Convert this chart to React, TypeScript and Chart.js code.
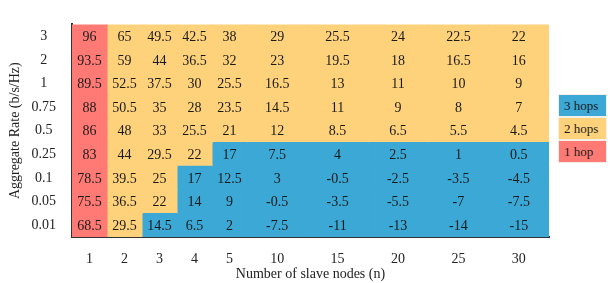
import React, { useEffect, useRef } from "react";
import { Chart, registerables } from "chart.js";

Chart.register(...registerables);

// Rows, top to bottom (Aggregate Rate b/s/Hz)
const rateLabels = ["3", "2", "1", "0.75", "0.5", "0.25", "0.1", "0.05", "0.01"];
// Columns (number of slave nodes)
const nodeLabels = ["1", "2", "3", "4", "5", "10", "15", "20", "25", "30"];

// Values per column, rows top (3) to bottom (0.01)
const vals1 = [96, 93.5, 89.5, 88, 86, 83, 78.5, 75.5, 68.5];
const vals2 = [65, 59, 52.5, 50.5, 48, 44, 39.5, 36.5, 29.5];
const vals3 = [49.5, 44, 37.5, 35, 33, 29.5, 25, 22, 14.5];
const vals4 = [42.5, 36.5, 30, 28, 25.5, 22, 17, 14, 6.5];
const vals5 = [38, 32, 25.5, 23.5, 21, 17, 12.5, 9, 2];
const vals10 = [29, 23, 16.5, 14.5, 12, 7.5, 3, -0.5, -7.5];
const vals15 = [25.5, 19.5, 13, 11, 8.5, 4, -0.5, -3.5, -11];
const vals20 = [24, 18, 11, 9, 6.5, 2.5, -2.5, -5.5, -13];
const vals25 = [22.5, 16.5, 10, 8, 5.5, 1, -3.5, -7, -14];
const vals30 = [22, 16, 9, 7, 4.5, 0.5, -4.5, -7.5, -15];
const values = [vals1, vals2, vals3, vals4, vals5, vals10, vals15, vals20, vals25, vals30];

// Hop count per cell, same layout
const hops1 = [1, 1, 1, 1, 1, 1, 1, 1, 1];
const hops2 = [2, 2, 2, 2, 2, 2, 2, 2, 2];
const hops3 = [2, 2, 2, 2, 2, 2, 2, 2, 3];
const hops4 = [2, 2, 2, 2, 2, 2, 3, 3, 3];
const hops5 = [2, 2, 2, 2, 2, 3, 3, 3, 3];
const hops = [hops1, hops2, hops3, hops4, hops5, hops5, hops5, hops5, hops5, hops5];

const legendLabels = ["3 hops", "2 hops", "1 hop"];

// Styling / layout (not data)
const hopColors: Record<number, string> = { 1: "#FF7A75", 2: "#FED27B", 3: "#3BA8D6" };
const colWeights = [35, 35, 35, 35, 35, 60.4, 60.4, 60.4, 60.4, 60.4];
const FONT = "'Liberation Serif', 'Times New Roman', serif";

const edges: number[] = [0];
colWeights.forEach((w, i) => edges.push(edges[i] + w));
const centers = colWeights.map((w, i) => edges[i] + w / 2);

const cellTextPlugin = {
  id: "cellText",
  afterDatasetsDraw(chart: any) {
    const ctx = chart.ctx;
    ctx.save();
    ctx.font = `14px ${FONT}`;
    ctx.fillStyle = "#1a1a1a";
    ctx.textAlign = "center";
    ctx.textBaseline = "middle";
    chart.data.datasets.forEach((ds: any, di: number) => {
      const meta = chart.getDatasetMeta(di);
      meta.data.forEach((el: any, ri: number) => {
        const cx = (el.x + el.base) / 2;
        ctx.fillText(String(values[di][ri]), cx, el.y + 1);
      });
    });
    ctx.restore();
  },
};

export default function App() {
  const ref = useRef<HTMLCanvasElement>(null);
  useEffect(() => {
    if (!ref.current) return;
    const datasets = values.map((col, ci) => ({
      label: nodeLabels[ci],
      data: col.map(() => [edges[ci], edges[ci + 1]]),
      backgroundColor: hops[ci].map((h) => hopColors[h]),
      borderWidth: 0,
      barPercentage: 1,
      categoryPercentage: 1,
      grouped: false,
      inflateAmount: 0.5,
    }));
    const chart = new Chart(ref.current, {
      type: "bar",
      data: { labels: rateLabels, datasets: datasets as any },
      options: {
        indexAxis: "y",
        animation: false,
        responsive: false,
        events: [],
        layout: { padding: { top: 10, right: 61, left: 0, bottom: 0 } },
        plugins: { legend: { display: false }, tooltip: { enabled: false } },
        scales: {
          x: {
            type: "linear",
            min: 0,
            max: edges[edges.length - 1],
            z: 1,
            grid: { display: false, drawTicks: false },
            border: { display: true, color: "#333", width: 2 },
            afterBuildTicks: (scale: any) => {
              scale.ticks = centers.map((v) => ({ value: v }));
            },
            afterFit: (scale: any) => {
              scale.height = 46;
            },
            ticks: {
              autoSkip: false,
              maxRotation: 0,
              padding: 14,
              color: "#222",
              font: { family: FONT, size: 14 },
              callback: (_v: any, i: number) => nodeLabels[i],
            },
            title: {
              display: true,
              text: "Number of slave nodes (n)",
              color: "#222",
              font: { family: FONT, size: 14 },
              padding: { top: 0, bottom: 0 },
            },
          },
          y: {
            type: "category",
            z: 1,
            grid: { display: false, drawTicks: false },
            border: { display: true, color: "#333", width: 2 },
            afterFit: (scale: any) => {
              scale.width = 72;
            },
            ticks: {
              crossAlign: "center",
              padding: 16,
              color: "#222",
              font: { family: FONT, size: 14 },
            },
            title: {
              display: true,
              text: "Aggregate Rate (b/s/Hz)",
              color: "#222",
              font: { family: FONT, size: 14 },
              padding: { top: 7, bottom: 0 },
            },
          },
        },
      },
      plugins: [cellTextPlugin],
    });
    return () => chart.destroy();
  }, []);

  return (
    <div style={{ position: "fixed", left: 0, top: 0, width: 610, height: 283, background: "#fff" }}>
      <canvas ref={ref} width={610} height={283} style={{ display: "block" }} />
      <div style={{ position: "absolute", left: 558, top: 94, width: 49 }}>
        {legendLabels.map((l, i) => (
          <div
            key={l}
            style={{
              boxSizing: "border-box",
              height: 23,
              background: hopColors[3 - i],
              border: "1px solid #f3eee6",
              fontFamily: FONT,
              fontSize: 13,
              color: "#1a1a1a",
              lineHeight: "21px",
              paddingLeft: 5,
              whiteSpace: "nowrap",
            }}
          >
            {l}
          </div>
        ))}
      </div>
    </div>
  );
}
